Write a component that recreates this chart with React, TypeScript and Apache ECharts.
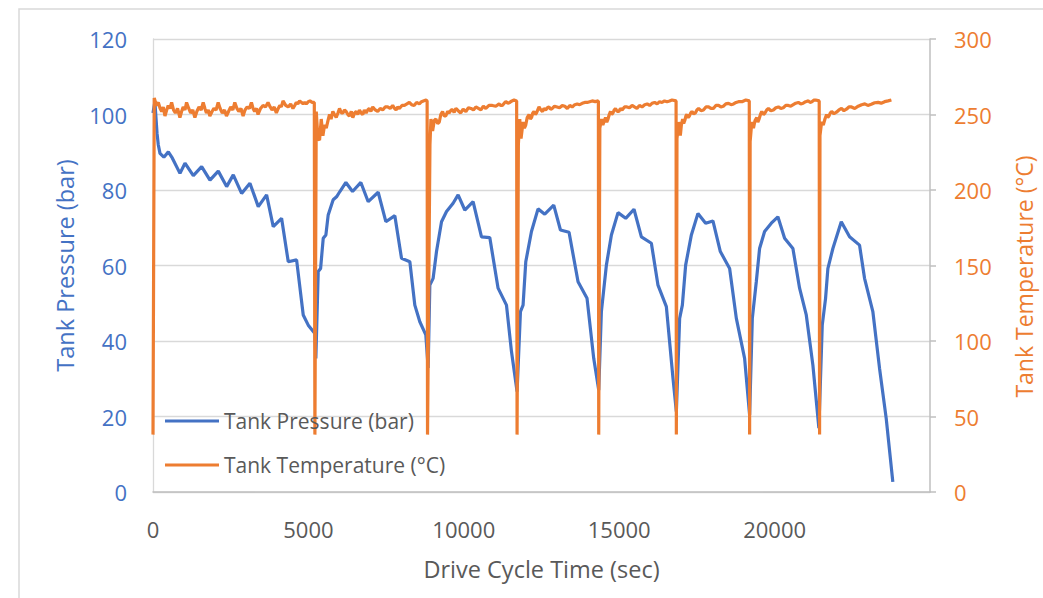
import React, { useEffect, useRef } from "react";
import * as echarts from "echarts";

const xTicks = { min: 0, max: 25000, interval: 5000 };
const pressureTicks = { min: 0, max: 120, interval: 20 };
const temperatureTicks = { min: 0, max: 300, interval: 50 };

const seriesNames = ["Tank Pressure (bar)", "Tank Temperature (°C)"];

const pressure: [number, number][] = [
  [0, 100.4], [60, 103.4], [130, 95], [170, 92], [225, 89.7], [350, 88.7], [493, 90.1], [620, 88.5],
  [868, 84.4], [1029, 87.1], [1297, 83.8], [1565, 86.2], [1833, 82.6], [2100, 85.0], [2369, 80.9],
  [2583, 84.0], [2851, 79.1], [3119, 81.8], [3387, 75.6], [3655, 78.7], [3869, 70.3], [4137, 72.5],
  [4352, 61.0], [4620, 61.5], [4834, 46.9], [4995, 44.2], [5209, 42.0], [5240, 35.4],
  [5316, 58.4], [5392, 59.2], [5477, 67.2], [5563, 68.1], [5637, 73.4], [5797, 77.4], [5906, 78.2],
  [6013, 79.6], [6206, 82.0], [6421, 79.6], [6688, 82.0], [6924, 76.9], [7245, 79.4], [7492, 71.6],
  [7781, 73.2], [7996, 61.9], [8264, 61.0], [8424, 49.5], [8585, 45.1], [8778, 41.6], [8853, 32.8],
  [8907, 54.8], [9013, 56.6], [9122, 63.7], [9283, 71.6], [9444, 74.3], [9656, 76.5], [9817, 78.7],
  [10032, 74.7], [10299, 76.9], [10569, 67.6], [10836, 67.4], [11103, 54.0], [11373, 49.5],
  [11534, 37.2], [11714, 26.6],
  [11823, 47.8], [11907, 49.5], [11994, 61.0], [12177, 69.0], [12389, 75.0], [12605, 73.6],
  [12894, 76.0], [13110, 69.4], [13386, 68.8], [13676, 55.7], [13965, 51.3], [14180, 35.4], [14341, 27.0],
  [14427, 47.8], [14588, 60.1], [14749, 68.1], [14962, 74.0], [15209, 72.5], [15476, 74.9],
  [15714, 67.6], [16035, 65.9], [16248, 54.8], [16517, 49.1], [16731, 30.1], [16839, 21.3],
  [16945, 46.0], [17032, 49.5], [17138, 60.1], [17322, 68.1], [17534, 73.8], [17781, 71.2],
  [18016, 71.8], [18254, 63.7], [18553, 59.2], [18769, 46.0], [19035, 35.4], [19196, 20.4],
  [19283, 46.0], [19411, 55.7], [19517, 64.5], [19678, 69.0], [19894, 71.2], [20106, 72.9],
  [20322, 67.2], [20589, 64.5], [20804, 54.0], [21019, 46.9], [21232, 33.6], [21425, 16.9],
  [21533, 44.2], [21640, 51.3], [21714, 59.2], [21875, 64.5], [22145, 71.6], [22412, 67.6],
  [22733, 65.4], [22894, 56.6], [23161, 47.8], [23376, 32.8], [23591, 19.5], [23804, 2.7],
];

const temperature: [number, number][] = [
  [0, 38], [40, 261], [110, 256], [171, 258], [230, 254], [280, 252], [330, 255], [385, 249],
  [440, 253], [490, 256], [545, 254], [599, 258], [660, 253], [720, 251], [790, 254], [866, 248],
  [920, 252], [970, 255], [1030, 253], [1080, 258], [1150, 254], [1210, 251], [1280, 253], [1348, 248],
  [1410, 252], [1480, 255], [1550, 253], [1615, 258], [1670, 254], [1720, 251], [1780, 253], [1829, 249],
  [1900, 252], [1960, 254], [2030, 253], [2097, 258], [2160, 254], [2230, 251], [2300, 253], [2364, 249],
  [2430, 252], [2500, 255], [2570, 253], [2632, 258], [2700, 254], [2760, 252], [2830, 254], [2899, 249],
  [2960, 253], [3030, 255], [3100, 254], [3167, 258], [3220, 254], [3270, 252], [3330, 254], [3380, 250],
  [3460, 254], [3540, 256], [3620, 255], [3701, 258], [3770, 255], [3830, 253], [3900, 255], [3969, 251],
  [4030, 254], [4080, 256], [4130, 255], [4183, 259], [4270, 256], [4350, 255], [4430, 257], [4503, 254],
  [4560, 256], [4610, 258], [4660, 257], [4718, 259], [4780, 258], [4830, 257], [4880, 258], [4932, 257],
  [5000, 258.5], [5050, 259], [5120, 258], [5190, 258],
  [5209, 38], [5253, 252], [5306, 234], [5359, 233], [5413, 247], [5466, 236], [5520, 243],
  [5574, 241], [5630, 246], [5680, 250], [5730, 247], [5787, 252], [5840, 250], [5895, 248], [5950, 251],
  [6001, 254], [6060, 251], [6110, 251], [6160, 253], [6215, 252], [6270, 250], [6320, 249], [6380, 252],
  [6429, 248], [6490, 251], [6540, 252], [6590, 250], [6643, 253], [6700, 251], [6750, 250], [6800, 253],
  [6858, 251], [6910, 253], [6960, 254], [7010, 252], [7070, 255], [7150, 253], [7230, 252], [7310, 254],
  [7391, 253], [7470, 255], [7550, 255], [7630, 254], [7712, 256], [7770, 254], [7820, 253], [7870, 255],
  [7927, 254], [8010, 256], [8090, 256], [8170, 257], [8248, 258], [8320, 256.5], [8400, 256], [8480, 258],
  [8569, 257], [8640, 258.5], [8700, 259], [8783, 259.6], [8820, 259],
  [8833, 38], [8911, 230], [8943, 247], [8996, 239], [9050, 246], [9103, 247], [9160, 244], [9211, 245],
  [9260, 250], [9317, 252], [9370, 249], [9420, 249], [9480, 252], [9531, 251], [9590, 253], [9640, 253],
  [9690, 251.5], [9745, 254], [9820, 252.5], [9900, 251], [9980, 253.5], [10067, 252], [10150, 254.5],
  [10230, 254], [10310, 253], [10388, 255], [10470, 254], [10550, 253], [10630, 255.5], [10709, 254],
  [10810, 256], [10920, 256], [11030, 255.5], [11136, 257], [11190, 256], [11240, 256], [11300, 257.5],
  [11351, 258.5], [11420, 257.5], [11480, 258], [11550, 259], [11617, 259.6], [11700, 259],
  [11714, 38], [11756, 230], [11800, 247], [11842, 234], [11906, 245], [11950, 241], [11993, 243],
  [12040, 248], [12099, 250], [12140, 247], [12180, 248], [12220, 251], [12259, 252], [12300, 250],
  [12340, 251], [12380, 253], [12420, 255], [12480, 253], [12530, 252], [12580, 254], [12635, 253],
  [12690, 254.5], [12740, 255], [12790, 253.5], [12847, 254], [12920, 255.5], [13000, 255], [13080, 254.5],
  [13168, 256], [13250, 255.5], [13330, 254], [13410, 256], [13489, 255], [13570, 256.5], [13650, 257],
  [13730, 256.5], [13810, 257.4], [13890, 258], [13970, 258], [14050, 258.5], [14131, 259], [14230, 258.5],
  [14330, 259],
  [14341, 38], [14377, 241], [14432, 247], [14474, 243], [14520, 246], [14560, 248], [14600, 245],
  [14640, 247], [14680, 250], [14721, 252], [14760, 250], [14800, 251], [14840, 253], [14881, 254],
  [14940, 252], [14990, 252], [15040, 254], [15093, 253], [15170, 255], [15250, 255], [15330, 254.5],
  [15414, 256], [15490, 255], [15570, 254], [15650, 256], [15735, 255], [15820, 256.5], [15900, 257],
  [15980, 256], [16056, 257.4], [16140, 258], [16220, 257], [16300, 258.5], [16377, 258], [16460, 259],
  [16540, 258.5], [16620, 259], [16698, 259.6], [16830, 259],
  [16839, 38], [16859, 234], [16913, 245], [16967, 236], [17000, 243], [17041, 247], [17075, 244],
  [17110, 246], [17145, 249], [17180, 250], [17220, 248], [17260, 249], [17300, 251], [17340, 252],
  [17390, 250.5], [17450, 251], [17500, 253], [17555, 254], [17630, 252.5], [17710, 253], [17790, 255],
  [17876, 255], [17950, 254], [18030, 254], [18110, 256], [18197, 256], [18270, 255], [18350, 255.5],
  [18430, 257], [18517, 257.4], [18600, 256.5], [18680, 257], [18760, 258], [18838, 258.5], [18950, 258.5],
  [19073, 259.6], [19185, 259],
  [19196, 38], [19213, 232], [19266, 245], [19320, 241], [19370, 246], [19426, 248], [19460, 245],
  [19500, 247], [19545, 250], [19587, 252], [19640, 250], [19690, 251], [19745, 253], [19801, 254],
  [19880, 252.5], [19960, 253], [20040, 254.5], [20122, 255], [20200, 254], [20280, 254.5], [20360, 256],
  [20443, 256], [20520, 255.5], [20600, 256.5], [20680, 257.5], [20764, 258], [20840, 257], [20920, 257.5],
  [21000, 258.5], [21085, 259], [21140, 258], [21200, 258.5], [21260, 259.5], [21319, 259.6], [21435, 259],
  [21447, 38], [21460, 236], [21513, 245], [21566, 243], [21620, 247], [21673, 250], [21710, 248],
  [21750, 249], [21790, 251], [21834, 252], [21910, 250.5], [21990, 251.5], [22070, 253], [22154, 254],
  [22230, 252.5], [22310, 253.5], [22390, 255], [22474, 255], [22580, 254], [22690, 255.5], [22800, 256.5],
  [22904, 257], [23000, 256], [23110, 256.8], [23220, 257.8], [23331, 258], [23430, 257.5], [23540, 258.5],
  [23650, 259], [23758, 259.6],
];

const FONT = "'Open Sans', Lato, sans-serif";
const BLUE = "#4472C4";
const ORANGE = "#ED7D31";
const GRAY_TEXT = "#595959";

export default function App() {
  const ref = useRef<HTMLDivElement>(null);

  useEffect(() => {
    if (!ref.current) return;
    const chart = echarts.init(ref.current, undefined, { renderer: "svg" });
    chart.setOption({
      animation: false,
      backgroundColor: "#ffffff",
      textStyle: { fontFamily: FONT },
      graphic: [
        {
          type: "rect",
          x: 19,
          y: 9,
          silent: true,
          z: -10,
          shape: { x: 0, y: 0, width: 1100, height: 700 },
          style: { fill: "none", stroke: "#d9d9d9", lineWidth: 1.5 },
        },
      ],
      grid: { left: 153, right: 111, top: 39, bottom: 106, containLabel: false },
      legend: {
        orient: "vertical",
        left: 160,
        top: 404,
        itemWidth: 54,
        itemHeight: 3,
        itemGap: 20,
        icon: "rect",
        data: seriesNames,
        textStyle: { color: GRAY_TEXT, fontSize: 21, fontFamily: FONT, lineHeight: 24 },
      },
      xAxis: {
        type: "value",
        min: xTicks.min,
        max: xTicks.max,
        interval: xTicks.interval,
        name: "Drive Cycle Time (sec)",
        nameLocation: "middle",
        nameGap: 65,
        nameTextStyle: { color: GRAY_TEXT, fontSize: 23.5, fontFamily: FONT },
        axisLine: { show: true, lineStyle: { color: "#bfbfbf", width: 1.5 } },
        axisTick: { show: false },
        splitLine: { show: false },
        axisLabel: {
          color: GRAY_TEXT,
          fontSize: 22,
          margin: 26,
          showMaxLabel: false,
          fontFamily: FONT,
          formatter: (v: number) => String(v),
        },
      },
      yAxis: [
        {
          type: "value",
          min: pressureTicks.min,
          max: pressureTicks.max,
          interval: pressureTicks.interval,
          position: "left",
          name: "Tank Pressure (bar)",
          nameLocation: "middle",
          nameGap: 76,
          nameTextStyle: { color: BLUE, fontSize: 23.5, fontFamily: FONT },
          axisLine: { show: true, lineStyle: { color: "#d9d9d9", width: 1.3 } },
          axisTick: { show: false },
          splitLine: { show: true, lineStyle: { color: "#d9d9d9", width: 1.3 } },
          axisLabel: { color: BLUE, fontSize: 22, margin: 26, fontFamily: FONT },
        },
        {
          type: "value",
          min: temperatureTicks.min,
          max: temperatureTicks.max,
          interval: temperatureTicks.interval,
          position: "right",
          name: "Tank Temperature (°C)",
          nameLocation: "middle",
          nameGap: 82,
          nameTextStyle: { color: ORANGE, fontSize: 23, fontFamily: FONT, padding: [0, 22, 0, 0] },
          axisLine: { show: true, lineStyle: { color: "#bfbfbf", width: 1.5 } },
          axisTick: { show: true, inside: false, length: 6, lineStyle: { color: "#bfbfbf", width: 1.5 } },
          splitLine: { show: false },
          axisLabel: { color: ORANGE, fontSize: 22, margin: 24, fontFamily: FONT },
        },
      ],
      series: [
        {
          name: seriesNames[0],
          type: "line",
          yAxisIndex: 0,
          data: pressure,
          showSymbol: false,
          symbol: "none",
          lineStyle: { color: BLUE, width: 3.2 },
          itemStyle: { color: BLUE },
          z: 2,
        },
        {
          name: seriesNames[1],
          type: "line",
          yAxisIndex: 1,
          data: temperature,
          showSymbol: false,
          symbol: "none",
          lineStyle: { color: ORANGE, width: 3.2 },
          itemStyle: { color: ORANGE },
          z: 3,
        },
      ],
    });
    return () => chart.dispose();
  }, []);

  return (
    <div
      ref={ref}
      style={{ position: "absolute", left: 0, top: 0, width: 1043, height: 598 }}
    />
  );
}
